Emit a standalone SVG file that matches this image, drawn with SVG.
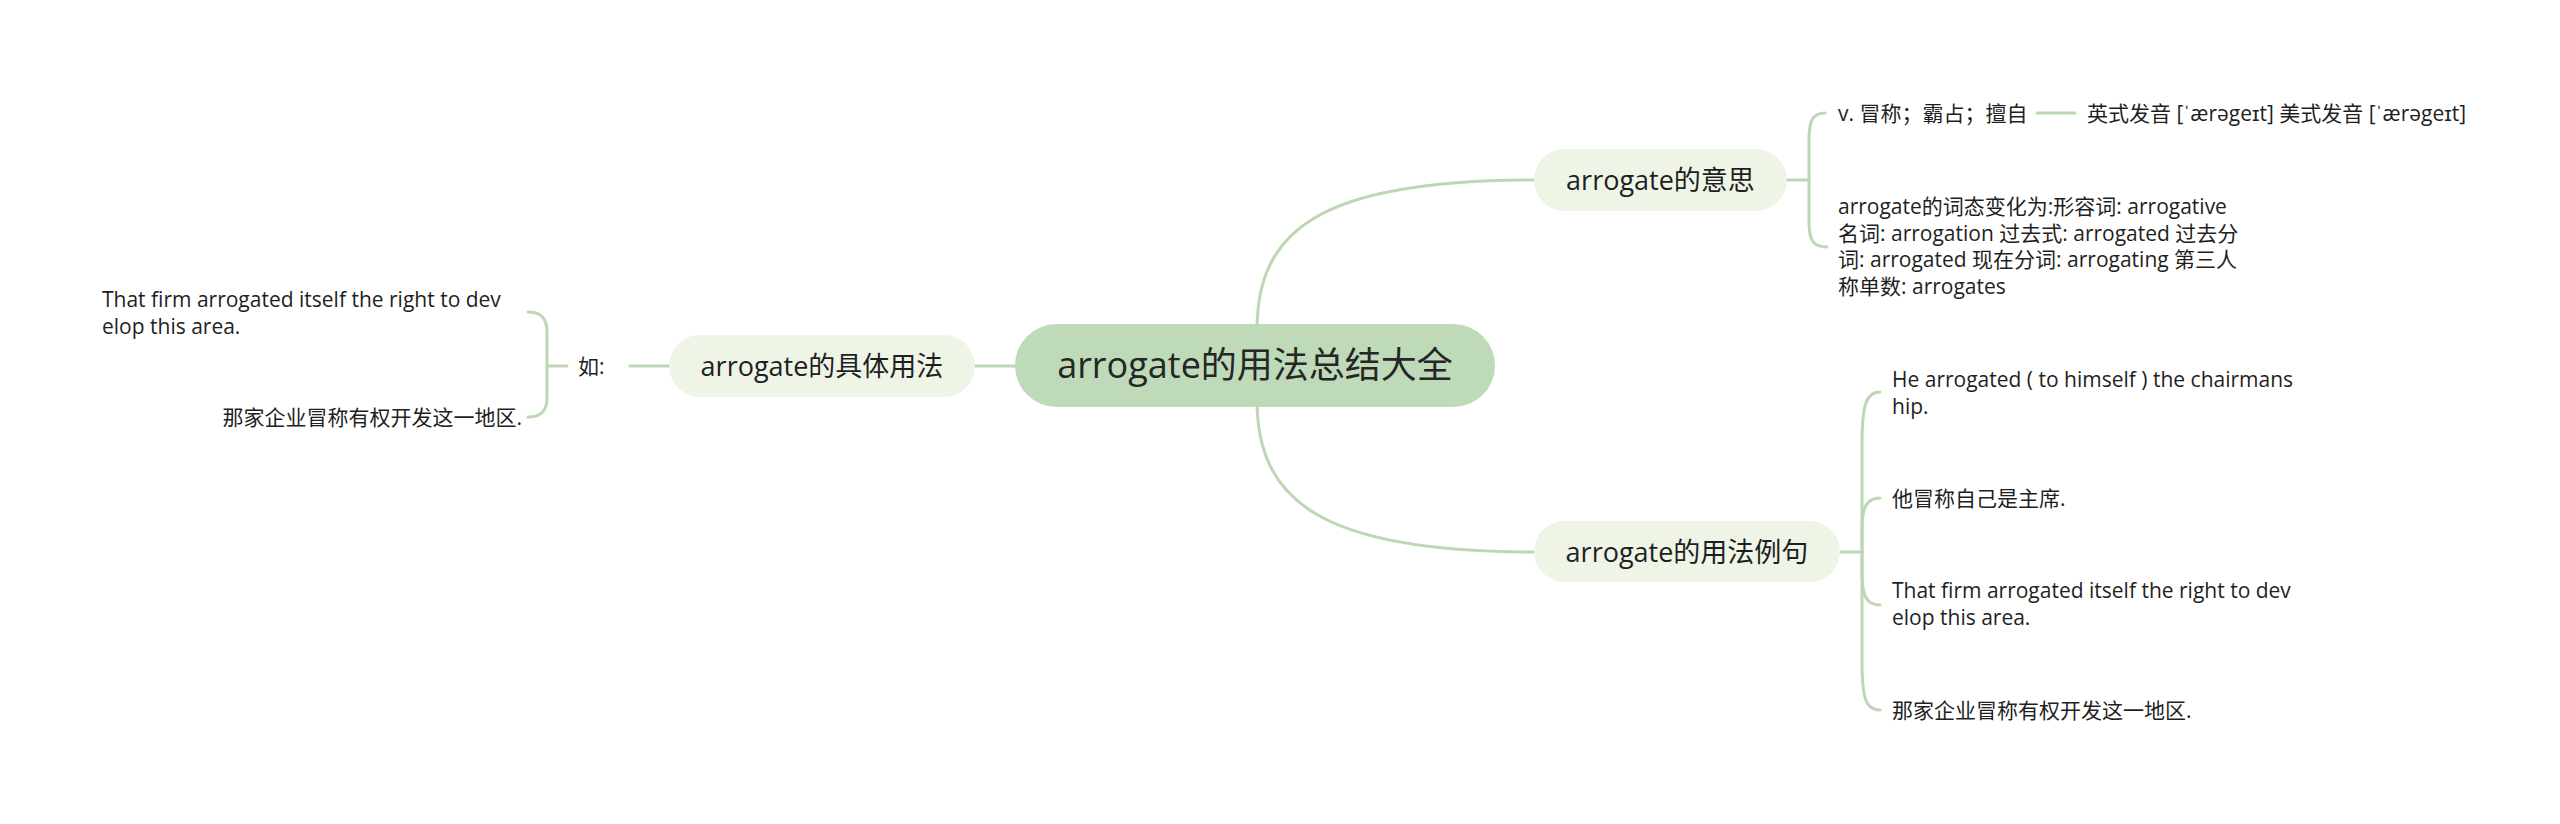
<svg xmlns="http://www.w3.org/2000/svg" width="2560" height="824" viewBox="0 0 2560 824">
  <style>
    text { font-family: 'Open Sans', 'Noto Sans CJK SC', sans-serif; fill: #1f1f1f; }
    .c { stroke: #bdd7b5; stroke-width: 3; fill: none; stroke-linecap: round; }
    .root { fill: #bedab9; }
    .main { fill: #eef5e7; }
    .rt { font-size: 36px; text-anchor: middle; fill: #262626; }
    .mt { font-size: 27px; text-anchor: middle; }
    .st { font-size: 21px; }
  </style>
  <rect width="2560" height="824" fill="#ffffff"/>
  <g id="connectors">
    <path class="c" d="M1257,330 C1257,230 1320,180 1534,180"/>
    <path class="c" d="M1257,400 C1257,500 1320,552 1534,552"/>
    <path class="c" d="M975,366 H1015"/>
    <path class="c" d="M1787,180 H1809"/>
    <path class="c" d="M1825,113 C1812,113 1809,122 1809,140 V222 C1809,240 1813,247 1827,247"/>
    <path class="c" d="M2037,113 H2075"/>
    <path class="c" d="M1840,552 H1862"/>
    <path class="c" d="M1862,552 V445 C1862,405 1866,392 1880,392"/>
    <path class="c" d="M1862,552 V530 C1862,508 1866,498 1880,498"/>
    <path class="c" d="M1862,552 V573 C1862,595 1866,605 1880,605"/>
    <path class="c" d="M1862,552 V660 C1862,700 1866,710 1880,710"/>
    <path class="c" d="M630,366 H669"/>
    <path class="c" d="M547,366 H567"/>
    <path class="c" d="M528,312 C541,312 547,318 547,332 V398 C547,411 541,417 528,417"/>
  </g>
  <g id="root">
    <rect class="root" x="1015" y="324" width="480" height="83" rx="41.5"/>
    <text class="rt" x="1255" y="378">arrogate的用法总结大全</text>
  </g>
  <g id="n-meaning">
    <rect class="main" x="1534" y="149" width="253" height="62" rx="31"/>
    <text class="mt" x="1660.5" y="190">arrogate的意思</text>
  </g>
  <g id="n-def">
    <text class="st" x="1838" y="121">v. 冒称；霸占；擅自</text>
  </g>
  <g id="n-pron">
    <text class="st" x="2087" y="121">英式发音 [ˈærəgeɪt] 美式发音 [ˈærəgeɪt]</text>
  </g>
  <g id="n-forms">
    <text class="st" x="1838" y="214">arrogate的词态变化为:形容词: arrogative</text>
    <text class="st" x="1838" y="240.5">名词: arrogation 过去式: arrogated 过去分</text>
    <text class="st" x="1838" y="267">词: arrogated 现在分词: arrogating 第三人</text>
    <text class="st" x="1838" y="293.5">称单数: arrogates</text>
  </g>
  <g id="n-examples">
    <rect class="main" x="1534" y="521" width="306" height="61" rx="30.5"/>
    <text class="mt" x="1687" y="562">arrogate的用法例句</text>
  </g>
  <g id="n-ex1">
    <text class="st" x="1892" y="387">He arrogated ( to himself ) the chairmans</text>
    <text class="st" x="1892" y="413.5">hip.</text>
  </g>
  <g id="n-ex2">
    <text class="st" x="1892" y="506">他冒称自己是主席.</text>
  </g>
  <g id="n-ex3">
    <text class="st" x="1892" y="598">That firm arrogated itself the right to dev</text>
    <text class="st" x="1892" y="624.5">elop this area.</text>
  </g>
  <g id="n-ex4">
    <text class="st" x="1892" y="718">那家企业冒称有权开发这一地区.</text>
  </g>
  <g id="n-usage">
    <rect class="main" x="669" y="335" width="306" height="62" rx="31"/>
    <text class="mt" x="822" y="376">arrogate的具体用法</text>
  </g>
  <g id="n-ru">
    <text class="st" x="578" y="374">如:</text>
  </g>
  <g id="n-left1">
    <text class="st" x="102" y="307">That firm arrogated itself the right to dev</text>
    <text class="st" x="102" y="333.5">elop this area.</text>
  </g>
  <g id="n-left2">
    <text class="st" x="522" y="425" text-anchor="end">那家企业冒称有权开发这一地区.</text>
  </g>
</svg>
